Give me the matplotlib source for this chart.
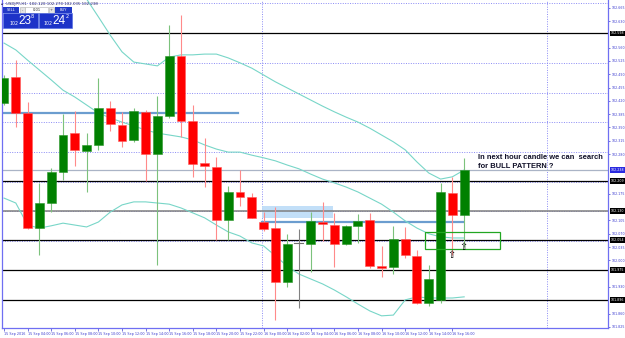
import matplotlib
matplotlib.use("Agg")
import matplotlib.pyplot as plt
import matplotlib.transforms as mtransforms
from matplotlib.patches import Rectangle

# USDJPY H1 bars, 15 Sep 02:00 .. 16 Sep 17:00
opens = [102.414, 102.483, 102.388, 102.085, 102.151, 102.233, 102.335, 102.288,
         102.304, 102.401, 102.356, 102.317, 102.391, 102.280, 102.380, 102.538,
         102.367, 102.256, 102.246, 102.106, 102.180, 102.167, 102.101, 102.085,
         101.943, 102.046, 102.043, 102.101, 102.093, 102.043, 102.091, 102.106,
         101.985, 101.983, 102.056, 102.012, 101.888, 101.896, 102.177, 102.120]
highs = [102.488, 102.528, 102.417, 102.204, 102.243, 102.385, 102.393, 102.335,
         102.480, 102.420, 102.391, 102.401, 102.396, 102.433, 102.620, 102.646,
         102.409, 102.322, 102.272, 102.196, 102.238, 102.177, 102.127, 102.141,
         102.070, 102.083, 102.127, 102.154, 102.125, 102.093, 102.122, 102.125,
         102.038, 102.091, 102.088, 102.027, 101.988, 102.204, 102.220, 102.270]
lows = [102.409, 102.351, 102.083, 102.014, 102.127, 102.212, 102.249, 102.180,
        102.291, 102.341, 102.299, 102.312, 102.209, 101.988, 102.375, 102.325,
        102.220, 102.193, 102.054, 102.054, 102.143, 102.112, 102.077, 101.843,
        101.930, 101.875, 101.970, 102.051, 101.983, 102.041, 102.046, 101.980,
        101.956, 101.964, 102.006, 101.885, 101.880, 101.888, 102.014, 102.035]
closes = [102.480, 102.388, 102.085, 102.151, 102.233, 102.330, 102.291, 102.304,
          102.401, 102.359, 102.314, 102.393, 102.280, 102.380, 102.538, 102.367,
          102.254, 102.249, 102.106, 102.180, 102.167, 102.112, 102.083, 101.943,
          102.043, 102.046, 102.104, 102.096, 102.043, 102.091, 102.104, 101.985,
          101.980, 102.056, 102.014, 101.888, 101.951, 102.180, 102.120, 102.238]

# Bollinger bands
bb_upper = [102.791, 102.796, 102.804, 102.804, 102.791, 102.778, 102.738, 102.688,
            102.641, 102.593, 102.549, 102.522, 102.517, 102.512, 102.535, 102.541,
            102.541, 102.543, 102.543, 102.533, 102.520, 102.506, 102.488, 102.470,
            102.454, 102.438, 102.422, 102.406, 102.391, 102.377, 102.364, 102.348,
            102.330, 102.312, 102.291, 102.259, 102.230, 102.214, 102.220, 102.238]
bb_middle = [102.572, 102.554, 102.527, 102.501, 102.475, 102.448, 102.430, 102.409,
             102.388, 102.375, 102.364, 102.354, 102.343, 102.335, 102.330, 102.325,
             102.317, 102.304, 102.293, 102.285, 102.285, 102.277, 102.270, 102.262,
             102.251, 102.241, 102.227, 102.214, 102.204, 102.193, 102.180, 102.164,
             102.148, 102.127, 102.104, 102.085, 102.070, 102.062, 102.059, 102.059]
bb_lower = [102.164, 102.151, 102.093, 102.085, 102.091, 102.098, 102.093, 102.088,
            102.101, 102.127, 102.146, 102.154, 102.154, 102.151, 102.148, 102.138,
            102.125, 102.112, 102.093, 102.075, 102.064, 102.046, 102.038, 102.012,
            101.985, 101.964, 101.951, 101.938, 101.922, 101.904, 101.885, 101.867,
            101.854, 101.856, 101.896, 101.904, 101.901, 101.901, 101.901, 101.904]

black_levels = [102.598, 102.209, 102.054, 101.975, 101.896]
gray_level = 102.130
bid = 102.238
grid_prices = [102.677, 102.598, 102.520, 102.441, 102.364, 102.285,
               102.206, 102.130, 102.051, 101.975, 101.896]
price_ticks = [102.665, 102.630, 102.595, 102.560, 102.525, 102.490, 102.455,
               102.420, 102.385, 102.350, 102.315, 102.280, 102.245, 102.210,
               102.175, 102.140, 102.105, 102.070, 102.035, 102.000, 101.965,
               101.930, 101.895, 101.860, 101.825]
time_labels = ["15 Sep 2016", "15 Sep 04:00", "15 Sep 06:00", "15 Sep 08:00",
               "15 Sep 10:00", "15 Sep 12:00", "15 Sep 14:00", "15 Sep 16:00",
               "15 Sep 18:00", "15 Sep 20:00", "15 Sep 22:00", "16 Sep 00:00",
               "16 Sep 02:00", "16 Sep 04:00", "16 Sep 06:00", "16 Sep 08:00",
               "16 Sep 10:00", "16 Sep 12:00", "16 Sep 14:00", "16 Sep 16:00"]

W, H = 625, 338
AXIS_BLUE = "#6f6ff2"
LABEL_BLUE = "#3c3cd0"


def px(x, y):
    """pixel (top-left origin) -> figure fraction"""
    return x / W, 1 - y / H


def main():
    fig = plt.figure(figsize=(W / 100, H / 100), dpi=100)
    fig.patch.set_facecolor("white")
    ax = fig.add_axes([2 / W, 10 / H, 606 / W, 328 / H])

    n = len(closes)
    xs = list(range(n))
    ax.set_xlim(-0.17, 51.19)
    ax.set_ylim(101.822, 102.6854)

    # grid
    for p in grid_prices:
        ax.axhline(p, color="#8a8af5", lw=0.7, ls=(0, (1, 1.5)), zorder=1)
    for xv in [21.9, 46.0]:
        ax.axvline(xv, color="#8a8af5", lw=0.7, ls=(0, (1, 1.5)), zorder=1)

    # drawn objects
    ax.add_patch(Rectangle((21.86, 102.112), 6.02, 0.031, fc="#bcdcf8",
                           ec="none", alpha=0.9, zorder=1.5))
    ax.axhline(bid, color="#aab4c6", lw=0.9, zorder=2)
    ax.axhline(gray_level, color="#7f7f7f", lw=1.1, zorder=2)
    for p in black_levels:
        ax.axhline(p, color="black", lw=0.9, zorder=2)
    ax.plot([-0.08, 19.83], [102.388, 102.388], color="#6b9dcf", lw=1.6, zorder=2)
    ax.plot([21.86, 38.9], [102.102, 102.102], color="#6b9dcf", lw=1.6, zorder=2)

    # bollinger bands
    for band in (bb_upper, bb_middle, bb_lower):
        ax.plot(xs, band, color="#78d6c8", lw=0.8, zorder=2.5)

    # candles
    for i in xs:
        o, h, l, c = opens[i], highs[i], lows[i], closes[i]
        if c > o:
            body, edge, wick = "#008000", "#2a962a", "#7cc27c"
        elif c < o:
            body, edge, wick = "#ff0000", "#ff5a5a", "#ff8a8a"
        else:
            body, edge, wick = "#707070", "#707070", "#808080"
        ax.vlines(i, l, h, color=wick, lw=0.8, zorder=3)
        if c == o:
            ax.plot([i - 0.38, i + 0.38], [o, o], color=body, lw=0.8, zorder=4)
        else:
            ax.bar(i, abs(c - o), bottom=min(o, c), width=0.76, color=body,
                   edgecolor=edge, lw=0.4, zorder=4)

    # annotation
    ax.add_patch(Rectangle((35.68, 102.030), 6.35, 0.0456, fill=False,
                           ec="#22a622", lw=0.9, zorder=5))
    ax.text(40.2, 102.272, "In next hour candle we can  search", fontsize=5.4,
            fontweight="bold", family="Liberation Sans", color="#101028",
            va="center", ha="left", zorder=6)
    ax.text(40.2, 102.247, "for BULL PATTERN ?", fontsize=5.4,
            fontweight="bold", family="Liberation Sans", color="#101028",
            va="center", ha="left", zorder=6)
    for xa, ya in [(37.9, 102.014), (38.9, 102.036)]:
        ax.text(xa, ya, "\u21e7", fontsize=7, color="black", ha="center",
                va="center", family="DejaVu Sans", zorder=6)

    # axes look
    ax.spines["top"].set_visible(False)
    for s in ("left", "right", "bottom"):
        ax.spines[s].set_color(AXIS_BLUE)
        ax.spines[s].set_linewidth(0.9)

    # scale labels hidden behind the price boxes are left out, as the terminal does
    boxed = black_levels + [gray_level, bid]
    shown = [p for p in price_ticks if min(abs(p - b) for b in boxed) > 0.013]
    ax.yaxis.tick_right()
    ax.set_yticks(shown)
    ax.set_yticklabels(["%.3f" % p for p in shown])
    ax.tick_params(axis="y", labelsize=2.3, colors=LABEL_BLUE, length=1.5,
                   width=0.5, pad=0.8)
    ax.set_xticks(list(range(0, 40, 2)))
    ax.set_xticklabels(time_labels)
    ax.tick_params(axis="x", labelsize=2.4, colors=LABEL_BLUE, length=2,
                   width=0.5, pad=1)
    for lbl in ax.get_xticklabels():
        lbl.set_horizontalalignment("left")

    # price boxes on the right scale
    trans = mtransforms.blended_transform_factory(ax.transAxes, ax.transData)
    for p in black_levels + [gray_level]:
        ax.text(1.004, p, "%.3f" % p, transform=trans, fontsize=2.3,
                color="white", va="center", ha="left", zorder=7,
                bbox=dict(boxstyle="square,pad=0.2", fc="black", ec="none"))
    ax.text(1.004, bid, "%.3f" % bid, transform=trans, fontsize=2.3,
            color="white", va="center", ha="left", zorder=7,
            bbox=dict(boxstyle="square,pad=0.2", fc="#2a2ae0", ec="none"))

    # title line
    fig.text(*px(6, 3.5), "USDJPY,H1  %.3f %.3f %.3f %.3f" % (opens[-1], highs[-1], lows[-1], closes[-1]),
             fontsize=2.8, color="#2a2a60", va="center", ha="left")
    fig.text(*px(2.5, 3.5), "\u25b4", fontsize=3, color="#2a2a60", va="center", ha="center")

    # one click trading panel
    def box(x0, y0, x1, y1, fc, ec="none"):
        bx, by = px(x0, y1)
        fig.add_artist(Rectangle((bx, by), (x1 - x0) / W, (y1 - y0) / H,
                                 transform=fig.transFigure, fc=fc, ec=ec, lw=0.4))

    box(3, 7, 19, 13, "#2139c6")
    box(20, 7, 25, 13, "#e4e4e4", "#b0b0b0")
    box(25, 7, 48, 13, "white", "#b0b0b0")
    box(49, 7, 54, 13, "#e4e4e4", "#b0b0b0")
    box(55, 7, 72, 13, "#2139c6")
    box(3, 13.5, 38, 28, "#1d33c8", "#4c68e4")
    box(39, 13.5, 72, 28, "#1d33c8", "#4c68e4")
    fig.text(*px(11, 10), "SELL", fontsize=2.6, color="white", ha="center", va="center")
    fig.text(*px(63.5, 10), "BUY", fontsize=2.6, color="white", ha="center", va="center")
    fig.text(*px(36.5, 10), "0.01", fontsize=2.6, color="#222222", ha="center", va="center")
    fig.text(*px(22.5, 10), "-", fontsize=2.6, color="#444444", ha="center", va="center")
    fig.text(*px(51.5, 10), "+", fontsize=2.6, color="#444444", ha="center", va="center")
    for x102, xbig, xsup, big, sup in [(13.5, 25, 32.5, "23", "8"), (47.5, 59, 67, "24", "2")]:
        fig.text(*px(x102, 23.5), "102", fontsize=3.4, color="white", ha="center", va="center")
        fig.text(*px(xbig, 21.5), big, fontsize=8.5, color="white", ha="center",
                 va="center", family="Liberation Sans")
        fig.text(*px(xsup, 17), sup, fontsize=3.6, color="white", ha="center", va="center")

    fig.savefig("out.png", dpi=100, facecolor="white")


if __name__ == "__main__":
    main()
